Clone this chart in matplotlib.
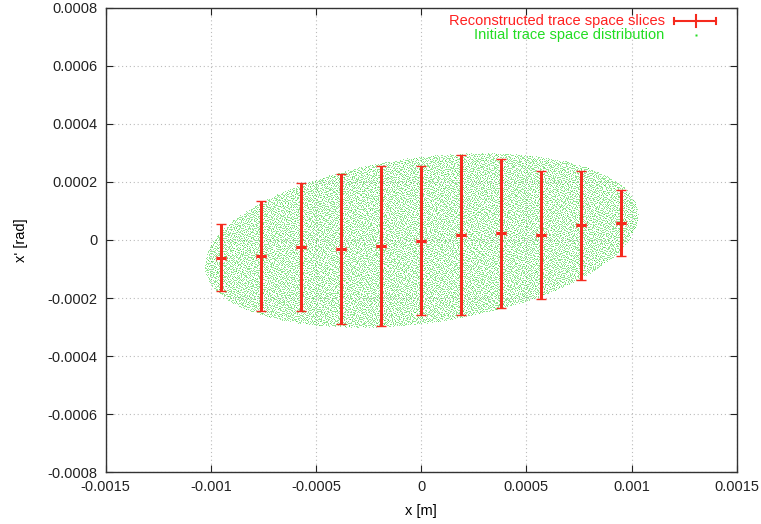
import numpy as np
import matplotlib
matplotlib.use("Agg")
import matplotlib.pyplot as plt

# Reconstructed slice centres and spreads
slice_x = [-0.00095, -0.00076, -0.00057, -0.00038, -0.00019, 0.0,
           0.00019, 0.00038, 0.00057, 0.00076, 0.00095]
slice_xp = [-6.1e-5, -5.5e-5, -2.4e-5, -3.1e-5, -2.1e-5, -0.2e-5,
            1.7e-5, 2.3e-5, 1.7e-5, 5.1e-5, 5.9e-5]
slice_xp_err = [11.5e-5, 18.8e-5, 22.2e-5, 25.7e-5, 27.7e-5, 25.6e-5,
                27.6e-5, 25.6e-5, 22.1e-5, 18.8e-5, 11.5e-5]
slice_x_err = [2.4e-5] * 11

# Initial trace space ellipse: max x, max x', and x' at max x
x_max = 1.03e-3
xp_max = 3.0e-4
xp_at_xmax = 0.86e-4
n_samples = 30000

x_ticks = [-0.0015, -0.001, -0.0005, 0, 0.0005, 0.001, 0.0015]
x_ticklabels = ["-0.0015", "-0.001", "-0.0005", "0", "0.0005", "0.001", "0.0015"]
y_ticks = [-0.0008, -0.0006, -0.0004, -0.0002, 0, 0.0002, 0.0004, 0.0006, 0.0008]
y_ticklabels = ["-0.0008", "-0.0006", "-0.0004", "-0.0002", "0",
                "0.0002", "0.0004", "0.0006", "0.0008"]

RED = "#f52a1e"
GREEN = "#22dd22"
FS = 10.5

plt.rcParams["font.family"] = ["Liberation Sans", "DejaVu Sans"]
plt.rcParams["font.size"] = FS

fig = plt.figure(figsize=(7.61, 5.24), dpi=100)
ax = fig.add_axes([0.139, 0.099, 0.829, 0.886])


def halton(n, base):
    out = np.zeros(n)
    for i in range(n):
        f, r, k = 1.0, 0.0, i + 1
        while k > 0:
            f /= base
            r += f * (k % base)
            k //= base
        out[i] = r
    return out


# Halton points in the square, kept inside the unit disk, then mapped to the ellipse
du = 2 * halton(n_samples, 2) - 1
dw = 2 * halton(n_samples, 3) - 1
inside = du ** 2 + dw ** 2 <= 1
du, dw = du[inside], dw[inside]
k = np.sqrt(xp_max ** 2 - xp_at_xmax ** 2)
px = x_max * du
pxp = xp_at_xmax * du + k * dw
ax.scatter(px, pxp, s=0.35, color="#20d020", alpha=0.55, linewidths=0,
           zorder=2)

# vertical spread with caps
ax.errorbar(slice_x, slice_xp, yerr=slice_xp_err, fmt="none", ecolor=RED,
            elinewidth=2.2, capsize=3.5, capthick=1.0, zorder=3)
# horizontal spread with faint caps
ax.errorbar(slice_x, slice_xp, xerr=slice_x_err, fmt="none", ecolor=RED,
            elinewidth=2.2, capsize=0, zorder=3)
ax.errorbar(slice_x, slice_xp, xerr=slice_x_err, fmt="none", ecolor=RED,
            elinewidth=0, capsize=2.5, capthick=0.8, alpha=0.45, zorder=3)

ax.set_xlim(-0.0015, 0.0015)
ax.set_ylim(-0.0008, 0.0008)
ax.set_xticks(x_ticks)
ax.set_xticklabels(x_ticklabels)
ax.set_yticks(y_ticks)
ax.set_yticklabels(y_ticklabels)
ax.tick_params(direction="in", length=5, width=0.8, top=True, right=True,
               labelsize=FS, pad=6, colors="#222222")
ax.grid(True, linestyle=(0, (1, 2.5)), color="#bbbbbb", linewidth=0.8)
ax.set_axisbelow(True)
for s in ax.spines.values():
    s.set_color("#333333")
    s.set_linewidth(1.0)

ax.set_xlabel("x [m]", fontsize=FS, labelpad=7)
ax.set_ylabel("x' [rad]", fontsize=FS, labelpad=14)

# Key in the top-right corner
tr = ax.transAxes
y1, y2 = 0.972, 0.942
ax.text(0.886, y1, "Reconstructed trace space slices", color="#ff2020",
        ha="right", va="center", transform=tr, fontsize=FS)
ax.text(0.886, y2, "Initial trace space distribution", color=GREEN,
        ha="right", va="center", transform=tr, fontsize=FS)
ax.plot([0.900, 0.968], [y1, y1], color=RED, lw=1.5, transform=tr)
for xx, hh in [(0.900, 0.007), (0.968, 0.007), (0.935, 0.013)]:
    ax.plot([xx, xx], [y1 - hh, y1 + hh], color=RED, lw=1.5, transform=tr)
ax.plot([0.935], [y2], "s", ms=2, color=GREEN, mec="none", transform=tr)

fig.savefig("out.png", dpi=100)
